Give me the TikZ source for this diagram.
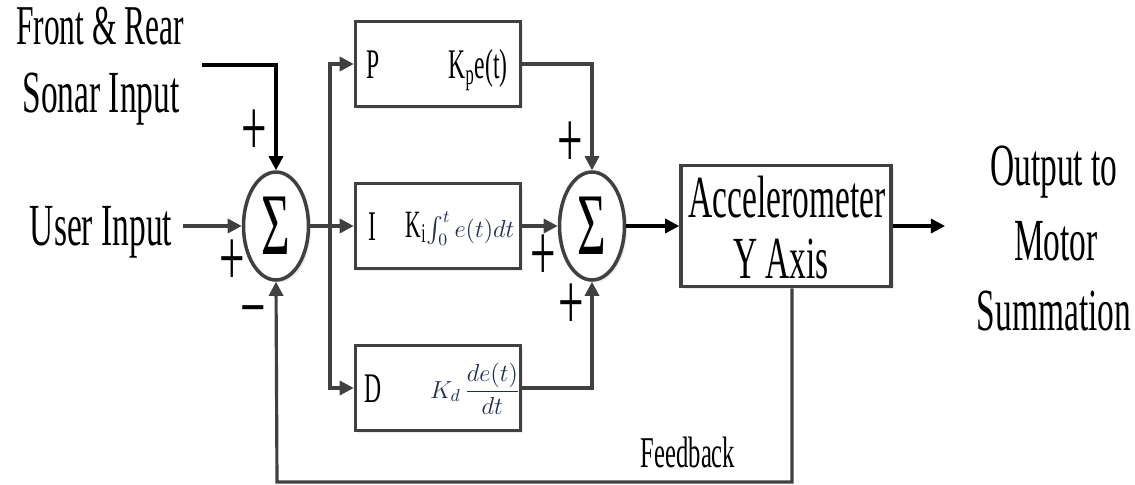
\RequirePackage{fix-cm}
\documentclass[tikz,border=0pt]{standalone}
\usepackage{amsmath}
\usepackage{fontspec}
\setmainfont{Liberation Serif}[FakeStretch=0.56]
\usetikzlibrary{shapes.geometric,shadows,arrows.meta}
\definecolor{linegray}{RGB}{64,64,64}
\definecolor{mathblue}{RGB}{31,45,80}

\begin{document}
\begin{tikzpicture}[x=0.02cm,y=-0.02cm,
	block/.style={draw=linegray, line width=2pt, fill=white, minimum width=3.3cm, minimum height=1.7cm, drop shadow={shadow xshift=1.5pt, shadow yshift=-1.5pt, fill=black!15}},
	summer/.style={ellipse, draw=linegray, line width=2pt, fill=white, minimum width=1.3cm, minimum height=2.16cm, inner sep=0pt, drop shadow={shadow xshift=1.5pt, shadow yshift=-1.5pt, fill=black!15}},
	big/.style={font=\fontsize{34}{36}\selectfont, inner sep=0pt, anchor=base},
	lbl/.style={font=\fontsize{24}{26}\selectfont, inner sep=0pt, anchor=base},
	sign/.style={font=\fontsize{46}{46}\selectfont, inner sep=0pt},
	conn/.style={draw=linegray, line width=1.8pt, -{Triangle[length=8pt,width=8pt]}},
	bconn/.style={draw=black, line width=1.8pt, -{Triangle[length=8pt,width=8pt]}}]
	\useasboundingbox (0,0) rectangle (1135,484);
	\begin{scope}
	% summing junctions
	\node[summer] (sumA) at (276,226) {\fontsize{50}{50}\selectfont Σ};
	\node[summer] (sumB) at (592,226) {\fontsize{50}{50}\selectfont Σ};
	
	% P, I, D blocks
	\node[block] (pbox) at (438,64) {};
	\node[block] (ibox) at (438,226) {};
	\node[block] (dbox) at (438,388) {};
	\node[block, minimum width=4.2cm, minimum height=2.42cm] (acc) at (786,226) {};
	
	\node[lbl] (pl) at (373,78) {P};
	\node[lbl] (pf) at (478,78) {K$_\text{p}$e(t)};
	\node[lbl] (il) at (372,240) {I};
	\node[inner sep=0pt, anchor=base, font=\fontsize{14}{17}\selectfont] (if) at (460,237) {{\fontsize{22}{24}\selectfont K$_\text{i}$}\textcolor{mathblue}{$\int_0^t e(t)dt$}};
	\node[lbl] (dl) at (373,402) {D};
	\node[inner sep=0pt, font=\fontsize{14}{17}\selectfont, text=mathblue] (df) at (475,389) {$K_d\,\dfrac{de(t)}{dt}$};
	
	\node[big] (accA) at (787,217) {Accelerometer};
	\node[big] (accB) at (781,278) {Y Axis};
	
	% inputs and output texts
	\node[big, font=\fontsize{32}{34}\selectfont] (front) at (100,44) {Front \& Rear};
	\node[big] (sonar) at (101,112) {Sonar Input};
	\node[big] (user) at (101,245) {User Input};
	\node[big] (outA) at (1054,185) {Output to};
	\node[big] (outB) at (1056,260) {Motor};
	\node[big] (outC) at (1054,330) {Summation};
	\node[big, font=\fontsize{25}{27}\selectfont] (fb) at (688,467) {Feedback};
	
	% signs
	\node[sign] (sA1) at (254,133) {+};
	\node[sign] (sA2) at (232,263) {+};
	\node[sign] (sA3) at (253,320) {−};
	\node[sign] (sB1) at (570,145) {+};
	\node[sign] (sB2) at (543,258) {+};
	\node[sign] (sB3) at (571,307) {+};
	
	\coordinate (sonarin) at (202,65);
	\coordinate (userin) at (183,226);
	\coordinate (split) at (330,226);
	\coordinate (outend) at (945,226);
	\coordinate (fbright) at (792,482);
	\coordinate (fbleft) at (277,482);
	
	% connectors
	\draw[bconn] (sonarin) -| (sumA.north); % sonar to sum
	\draw[conn] (userin) -- (sumA.west); % user to sum
	\draw[conn] (sumA.east) -- (ibox.west); % sum to I
	\draw[conn] (split) |- (pbox.west); % split to P
	\draw[conn] (split) |- (dbox.west); % split to D
	\draw[conn] (pbox.east) -| (sumB.north); % P to sum
	\draw[conn] (ibox.east) -- (sumB.west); % I to sum
	\draw[conn] (dbox.east) -| (sumB.south); % D to sum
	\draw[bconn] (sumB.east) -- (acc.west); % sum to accelerometer
	\draw[bconn] (acc.east) -- (outend); % output
	\draw[conn] (acc.south -| fbright) -- (fbright) -- (fbleft) -- (sumA.south); % feedback
	\end{scope}
\end{tikzpicture}
\end{document}
